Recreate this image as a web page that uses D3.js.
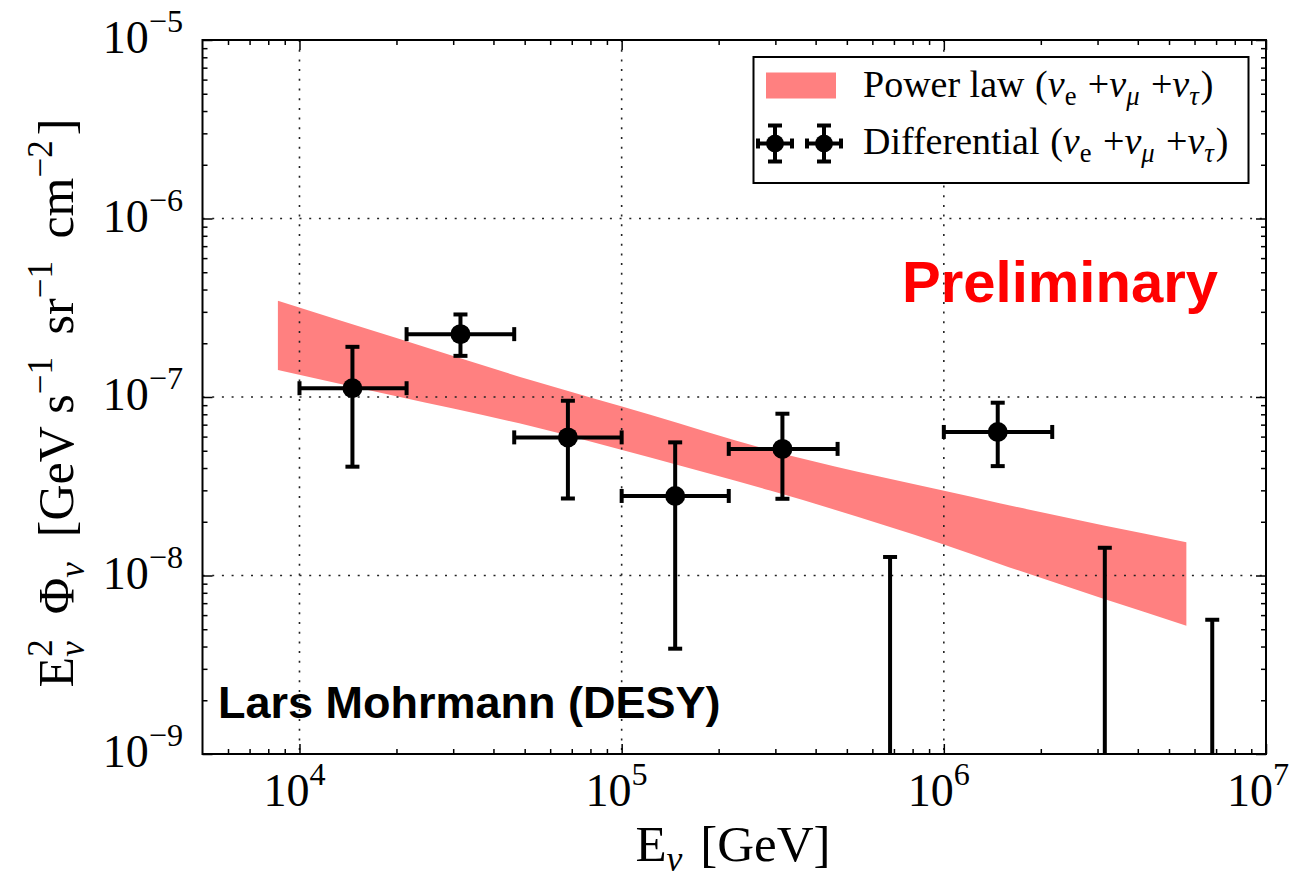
<!DOCTYPE html>
<html>
<head>
<meta charset="utf-8">
<script src="https://cdn.jsdelivr.net/npm/d3@7"></script>
<style>
  html, body { margin: 0; padding: 0; background: #fff; }
  svg { display: block; }
  text { font-family: "Liberation Serif", "Times New Roman", serif; fill: #000; }
  .sans { font-family: "Liberation Sans", Arial, sans-serif; font-weight: bold; }
</style>
</head>
<body>
<svg id="chart" width="1292" height="880"></svg>
<script>
// ---------------- data ----------------
const binCenter = [1.46e4, 3.16e4, 6.81e4, 1.466e5, 3.155e5, 1.47e6];
const binLow    = [1.0e4, 2.15e4, 4.64e4, 1.0e5, 2.15e5, 1.0e6];
const binHigh   = [2.15e4, 4.64e4, 1.0e5, 2.15e5, 4.68e5, 2.17e6];
const flux      = [1.12e-7, 2.25e-7, 5.94e-8, 2.79e-8, 5.12e-8, 6.37e-8];
const fluxUp    = [1.91e-7, 2.90e-7, 9.53e-8, 5.57e-8, 8.06e-8, 9.29e-8];
const fluxDown  = [4.07e-8, 1.70e-7, 2.70e-8, 3.89e-9, 2.69e-8, 4.10e-8];

const ulEnergy  = [6.81e5, 3.16e6, 6.81e6];
const ulFlux    = [1.27e-8, 1.43e-8, 5.65e-9];

const bandEnergy = [8.57e3, 2.0e4, 5.21e4, 1.227e5, 2.89e5, 9.94e5, 1.49e6, 5.66e6];
const bandUpper  = [3.46e-7, 2.14e-7, 1.245e-7, 7.96e-8, 5.03e-8, 2.99e-8, 2.54e-8, 1.535e-8];
const bandLower  = [1.417e-7, 1.009e-7, 6.88e-8, 4.58e-8, 2.99e-8, 1.495e-8, 1.16e-8, 5.23e-9];

const xMajor = [1e4, 1e5, 1e6, 1e7];
const xTickExp = ["4", "5", "6", "7"];
const yMajor = [1e-9, 1e-8, 1e-7, 1e-6, 1e-5];
const yTickExp = ["\u22129", "\u22128", "\u22127", "\u22126", "\u22125"];
const xGrid = [1e4, 1e5, 1e6];
const yGrid = [1e-8, 1e-7, 1e-6];

// ---------------- layout ----------------
const L = 202.5, R = 1266, T = 40, B = 754;
const svg = d3.select("#chart");
const x = d3.scaleLog().domain([5e3, 1e7]).range([L, R]);
const y = d3.scaleLog().domain([1e-9, 1e-5]).range([B, T]);

svg.append("defs").append("clipPath").attr("id", "clip")
  .append("rect").attr("x", L).attr("y", T).attr("width", R - L).attr("height", B - T);

// rich text helper: parts laid out sequentially
function rich(parent, px, py, parts, size, anchor, rotate) {
  const g = parent.append("g");
  const inner = g.append("g");
  let cx = 0, prevStart = 0, prevEnd = 0;
  parts.forEach(p => {
    if (p.gap !== undefined) { cx += p.gap * size; prevEnd = cx; return; }
    const fs = size * (p.s || 1);
    const start = p.stack ? prevStart : cx;
    const t = inner.append("text")
      .attr("x", start)
      .attr("y", (p.dy || 0) * size)
      .style("font-size", fs + "px")
      .style("font-style", p.i ? "italic" : "normal")
      .text(p.t);
    const w = t.node().getComputedTextLength();
    if (p.stack) { cx = Math.max(prevEnd, start + w); }
    else { prevStart = start; cx = start + w; }
    prevEnd = cx;
  });
  let shift = 0;
  if (anchor === "middle") shift = -cx / 2;
  if (anchor === "end") shift = -cx;
  inner.attr("transform", `translate(${shift},0)`);
  g.attr("transform", `translate(${px},${py})` + (rotate ? ` rotate(${rotate})` : ""));
  return g;
}

// ---------------- band ----------------
const bandData = bandEnergy.map((e, i) => ({ e, hi: bandUpper[i], lo: bandLower[i] }));
svg.append("path")
  .datum(bandData)
  .attr("clip-path", "url(#clip)")
  .attr("fill", "#ff8080")
  .attr("d", d3.area().curve(d3.curveMonotoneX)
    .x(d => x(d.e)).y0(d => y(d.lo)).y1(d => y(d.hi)));

// ---------------- grid ----------------
const grid = svg.append("g").attr("stroke", "#222").attr("stroke-width", 1.6)
  .attr("stroke-dasharray", "2,7.7");
grid.selectAll(".gx").data(xGrid).join("line")
  .attr("x1", d => x(d)).attr("x2", d => x(d)).attr("y1", T).attr("y2", B);
grid.selectAll(".gy").data(yGrid).join("line")
  .attr("y1", d => y(d)).attr("y2", d => y(d)).attr("x1", L).attr("x2", R);

// ---------------- error bars ----------------
const eb = svg.append("g").attr("clip-path", "url(#clip)")
  .attr("stroke", "#000").attr("stroke-width", 4).attr("fill", "#000");
const cap = 7;
binCenter.forEach((c, i) => {
  const g = eb.append("g");
  const cxp = x(c), cyp = y(flux[i]);
  g.append("line").attr("x1", x(binLow[i])).attr("x2", x(binHigh[i])).attr("y1", cyp).attr("y2", cyp);
  g.append("line").attr("x1", x(binLow[i])).attr("x2", x(binLow[i])).attr("y1", cyp - cap).attr("y2", cyp + cap);
  g.append("line").attr("x1", x(binHigh[i])).attr("x2", x(binHigh[i])).attr("y1", cyp - cap).attr("y2", cyp + cap);
  g.append("line").attr("x1", cxp).attr("x2", cxp).attr("y1", y(fluxUp[i])).attr("y2", y(fluxDown[i]));
  g.append("line").attr("x1", cxp - cap).attr("x2", cxp + cap).attr("y1", y(fluxUp[i])).attr("y2", y(fluxUp[i]));
  g.append("line").attr("x1", cxp - cap).attr("x2", cxp + cap).attr("y1", y(fluxDown[i])).attr("y2", y(fluxDown[i]));
  g.append("circle").attr("cx", cxp).attr("cy", cyp).attr("r", 10).attr("stroke", "none");
});
ulEnergy.forEach((e, i) => {
  const xp = x(e), yp = y(ulFlux[i]);
  eb.append("line").attr("x1", xp).attr("x2", xp).attr("y1", yp).attr("y2", B + 10);
  eb.append("line").attr("x1", xp - cap).attr("x2", xp + cap).attr("y1", yp).attr("y2", yp);
});

// ---------------- axes / ticks ----------------
function tickAxis(axisFn, scale, vals, size, transform) {
  const a = svg.append("g").attr("transform", transform)
    .call(axisFn(scale).tickValues(vals).tickSize(size).tickFormat(""));
  a.select(".domain").remove();
  a.selectAll("line").attr("stroke", "#000").attr("stroke-width", 1.5);
}
const xMinor = x.ticks().filter(v => !xMajor.includes(v) && v > 5e3 && v < 1e7);
const yMinor = y.ticks().filter(v => !yMajor.some(m => Math.abs(m - v) / v < 1e-6));
tickAxis(d3.axisBottom, x, xMajor, -10, `translate(0,${B})`);
tickAxis(d3.axisBottom, x, xMinor, -5, `translate(0,${B})`);
tickAxis(d3.axisTop, x, xMajor, -10, `translate(0,${T})`);
tickAxis(d3.axisTop, x, xMinor, -5, `translate(0,${T})`);
tickAxis(d3.axisLeft, y, yMajor, -10, `translate(${L},0)`);
tickAxis(d3.axisLeft, y, yMinor, -5, `translate(${L},0)`);
tickAxis(d3.axisRight, y, yMajor, -10, `translate(${R},0)`);
tickAxis(d3.axisRight, y, yMinor, -5, `translate(${R},0)`);

svg.append("rect").attr("x", L).attr("y", T).attr("width", R - L).attr("height", B - T)
  .attr("fill", "none").attr("stroke", "#000").attr("stroke-width", 2);

// tick labels
xMajor.forEach((v, i) => {
  rich(svg, Math.min(x(v) - 5, 1258), 806, [{ t: "10" }, { t: xTickExp[i], s: 0.7, dy: -0.45 }], 46, "middle");
});
yMajor.forEach((v, i) => {
  rich(svg, 183, y(v) + 13, [{ t: "10" }, { t: yTickExp[i], s: 0.7, dy: -0.45 }], 46, "end");
});

// axis titles
rich(svg, 733, 861, [
  { t: "E" }, { t: "\u03bd", s: 0.7, dy: 0.2, i: true }, { gap: 0.35 }, { t: "[GeV]" }
], 51, "middle");

rich(svg, 73, 403, [
  { t: "E" }, { t: "2", s: 0.7, dy: -0.42 }, { t: "\u03bd", s: 0.7, dy: 0.22, i: true, stack: true },
  { gap: 0.5 }, { t: "\u03a6" }, { t: "\u03bd", s: 0.7, dy: 0.22, i: true },
  { gap: 0.5 }, { t: "[GeV" }, { gap: 0.25 }, { t: "s" }, { t: "\u22121", s: 0.7, dy: -0.42 },
  { gap: 0.45 }, { t: "sr" }, { t: "\u22121", s: 0.7, dy: -0.42 },
  { gap: 0.45 }, { t: "cm" }, { t: "\u22122", s: 0.7, dy: -0.42 }, { gap: 0.1 }, { t: "]" }
], 50, "middle", -90);

// ---------------- legend ----------------
const lg = svg.append("g");
lg.append("rect").attr("x", 753.5).attr("y", 57).attr("width", 495).attr("height", 126)
  .attr("fill", "#fff").attr("stroke", "#000").attr("stroke-width", 2);
lg.append("rect").attr("x", 766).attr("y", 72.5).attr("width", 70).attr("height", 26).attr("fill", "#ff8080");
[775, 824].forEach(mx => {
  const g = lg.append("g").attr("stroke", "#000").attr("stroke-width", 4);
  const my = 143.5;
  g.append("line").attr("x1", mx - 17).attr("x2", mx + 17).attr("y1", my).attr("y2", my);
  g.append("line").attr("x1", mx - 17).attr("x2", mx - 17).attr("y1", my - 5).attr("y2", my + 5);
  g.append("line").attr("x1", mx + 17).attr("x2", mx + 17).attr("y1", my - 5).attr("y2", my + 5);
  g.append("line").attr("x1", mx).attr("x2", mx).attr("y1", my - 18).attr("y2", my + 18);
  g.append("line").attr("x1", mx - 7).attr("x2", mx + 7).attr("y1", my - 18).attr("y2", my - 18);
  g.append("line").attr("x1", mx - 7).attr("x2", mx + 7).attr("y1", my + 18).attr("y2", my + 18);
  g.append("circle").attr("cx", mx).attr("cy", my).attr("r", 9).attr("stroke", "none").attr("fill", "#000");
});
const nuParts = [
  { gap: 0.28 }, { t: "(" }, { t: "\u03bd", i: true }, { t: "e", s: 0.7, dy: 0.2 },
  { gap: 0.3 }, { t: "+" }, { t: "\u03bd", i: true }, { t: "\u03bc", s: 0.7, dy: 0.2, i: true },
  { gap: 0.3 }, { t: "+" }, { t: "\u03bd", i: true }, { t: "\u03c4", s: 0.7, dy: 0.2, i: true }, { gap: 0.05 }, { t: ")" }
];
rich(lg, 863, 97, [{ t: "Power law" }].concat(nuParts), 38, "start");
rich(lg, 863, 154, [{ t: "Differential" }].concat(nuParts), 38, "start");

// ---------------- annotations ----------------
svg.append("text").attr("class", "sans").attr("x", 1218).attr("y", 302)
  .attr("text-anchor", "end").style("font-size", "58px").style("fill", "#ff0000").text("Preliminary");
svg.append("text").attr("class", "sans").attr("x", 218).attr("y", 718)
  .style("font-size", "45px").text("Lars Mohrmann (DESY)");
</script>
</body>
</html>
